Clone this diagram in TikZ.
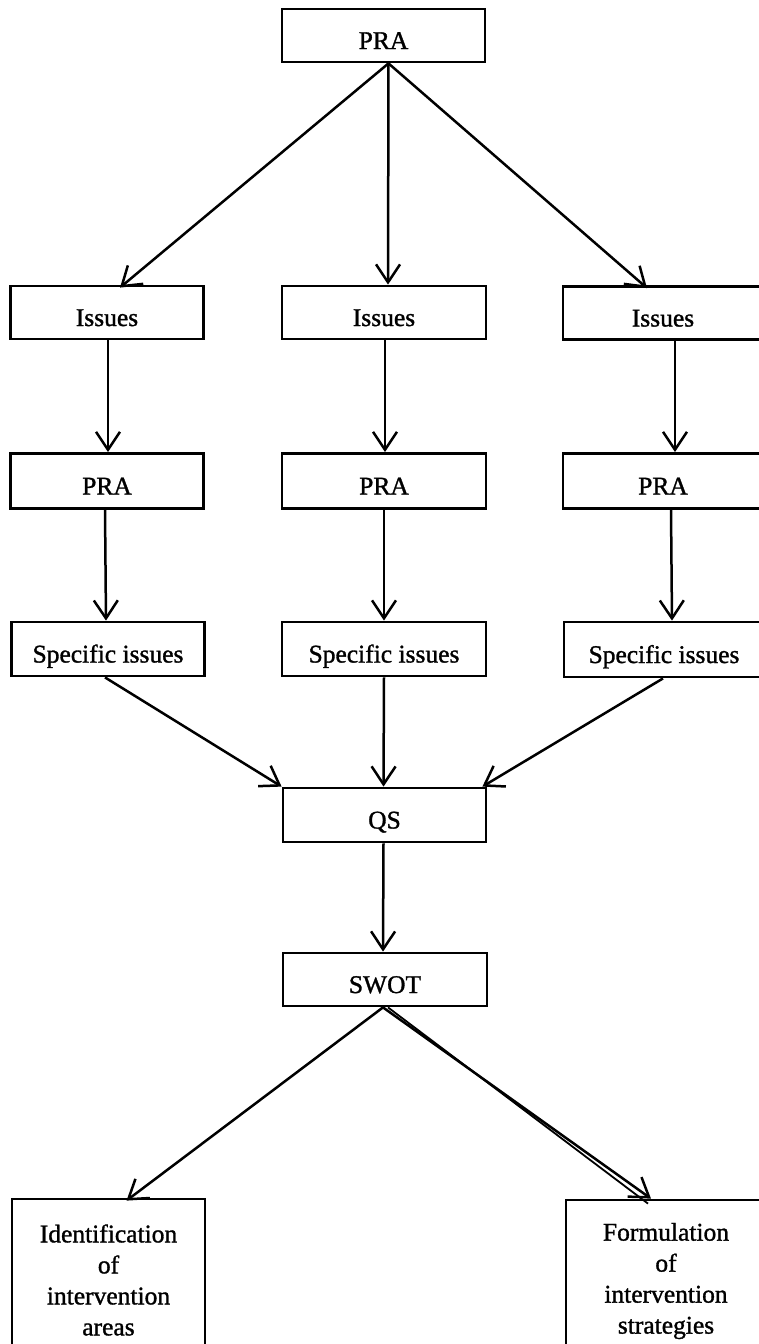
\documentclass[tikz,border=0pt]{standalone}
\usepackage{fontspec}
\setmainfont{Liberation Serif}
\usetikzlibrary{arrows.meta,calc}
\begin{document}
\begin{tikzpicture}[x=1pt,y=-1pt,
  box/.style={draw, line width=2.8pt, rectangle, inner sep=0pt,
    minimum height=53pt, align=center,
    font=\fontsize{25.5}{31}\selectfont\addfontfeature{FakeBold=1.2}},
  oneline/.style={text height=27pt, text depth=0pt},
  flow/.style={line width=2.5pt,
    -{Straight Barb[length=18pt,width=24pt,line width=2.5pt]}},
  twin/.style={line width=1.8pt},
]
\useasboundingbox (0,0) rectangle (758,1344);

% top level
\node[box, oneline, minimum width=203pt] (pra) at (383.5,35.5) {PRA};

% three columns: issues, PRA, specific issues
\node[box, oneline, minimum width=193pt] (issA) at (107,312.5) {Issues};
\node[box, oneline, minimum width=204pt] (issB) at (384,312.5) {Issues};
\node[box, oneline, minimum width=200pt] (issC) at (663,313) {Issues};

\node[box, oneline, minimum width=193pt, minimum height=55pt] (praA) at (107,481) {PRA};
\node[box, oneline, minimum width=204pt, minimum height=55pt] (praB) at (384,481) {PRA};
\node[box, oneline, minimum width=200pt, minimum height=55pt] (praC) at (663,481) {PRA};

\node[box, oneline, minimum width=193pt, minimum height=54pt] (speA) at (108,649) {Specific issues};
\node[box, oneline, minimum width=204pt, minimum height=54pt] (speB) at (384,649) {Specific issues};
\node[box, oneline, minimum width=200pt, minimum height=55pt] (speC) at (664,649.5) {Specific issues};

% synthesis
\node[box, oneline, minimum width=203pt, minimum height=54pt] (qs) at (384.5,815) {QS};
\node[box, oneline, minimum width=204pt] (swot) at (385,979.5) {SWOT};

% outcomes
\node[box, minimum width=193pt, minimum height=162pt] (ident) at (108.5,1280)
  {Identification\\of\\intervention\\areas};
\node[box, minimum width=200pt, minimum height=162pt] (form) at (666,1281)
  {Formulation\\of\\intervention\\strategies};

% connectors
\draw[flow] ([xshift=5pt]pra.south) -- ([xshift=13pt,yshift=-3pt]issA.north);
\draw[flow] ([xshift=5pt]pra.south) -- ([xshift=4pt]issB.north);
\draw[flow] ([xshift=5pt]pra.south) -- ([xshift=-16pt,yshift=-3pt]issC.north);

\draw[flow] ([xshift=1pt]issA.south) -- ([xshift=1pt]praA.north);
\draw[flow] ([xshift=1pt]issB.south) -- ([xshift=1pt]praB.north);
\draw[flow] ([xshift=12pt]issC.south) -- ([xshift=12pt]praC.north);

\draw[flow] ([xshift=-2pt]praA.south) -- ([xshift=-2pt]speA.north);
\draw[flow] ([xshift=0pt]praB.south) -- ([xshift=0pt]speB.north);
\draw[flow] ([xshift=8pt]praC.south) -- ([xshift=8pt]speC.north);

\draw[flow] ([xshift=-3pt]speA.south) -- (qs.north west);
\draw[flow] ([xshift=0pt]speB.south) -- ([xshift=-1pt]qs.north);
\draw[flow] ([xshift=-1pt]speC.south) -- ([xshift=-5pt]qs.north east);

\draw[flow] ([xshift=-1pt]qs.south) -- ([xshift=-2pt]swot.north);

\draw[flow] ([xshift=-2pt]swot.south) -- ([xshift=18pt,yshift=-3pt]ident.north);
\draw[flow] ([xshift=-2pt]swot.south) -- ([xshift=-15pt]form.north);
\draw[twin] ([xshift=3pt]swot.south) -- ([xshift=-18pt,yshift=-5pt]form.north);

\end{tikzpicture}
\end{document}
